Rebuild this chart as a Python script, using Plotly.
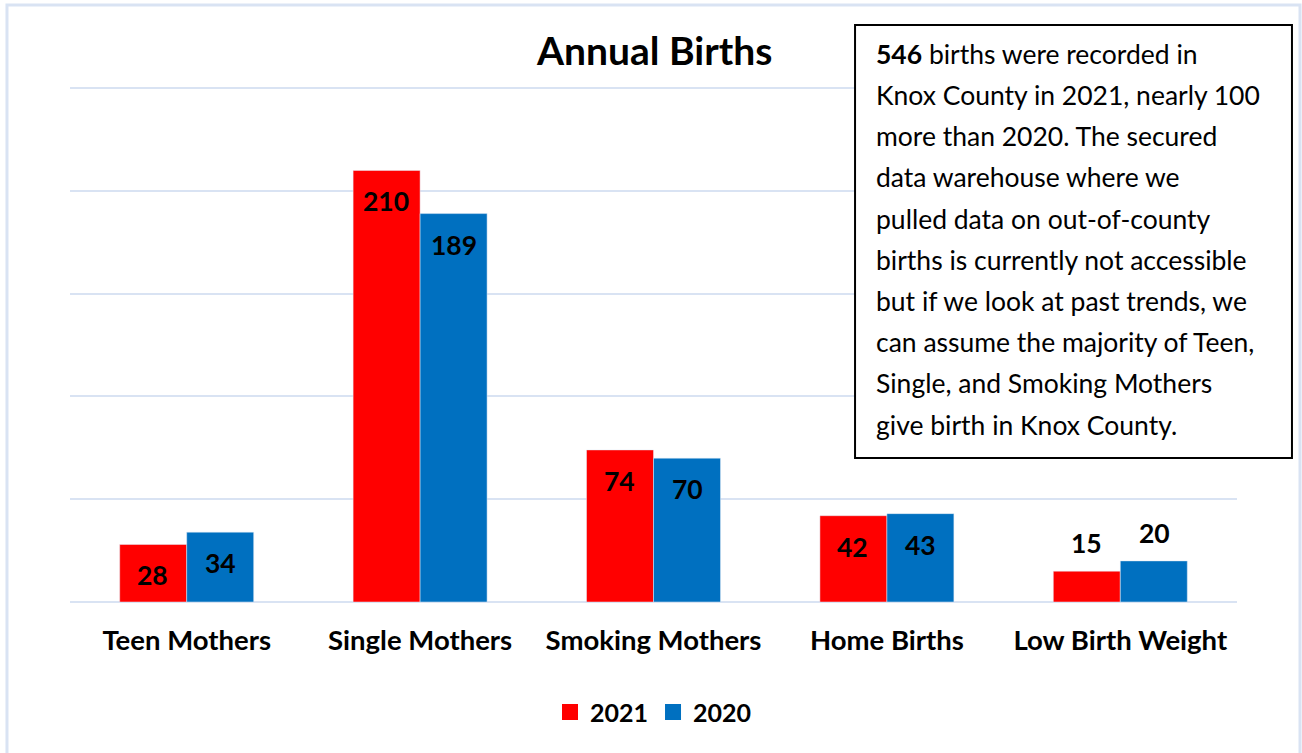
import plotly.graph_objects as go

# Annual births by category
categories = ["Teen Mothers", "Single Mothers", "Smoking Mothers", "Home Births", "Low Birth Weight"]
births_2021 = [28, 210, 74, 42, 15]
births_2020 = [34, 189, 70, 43, 20]
years = ["2021", "2020"]

note_lines = [
    "<b>546</b> births were recorded in",
    "Knox County in 2021, nearly 100",
    "more than 2020. The secured",
    "data warehouse where we",
    "pulled data on out-of-county",
    "births is currently not accessible",
    "but if we look at past trends, we",
    "can assume the majority of Teen,",
    "Single, and Smoking Mothers",
    "give birth in Knox County.",
]

FONT = "Lato"
RED = "#FF0000"
BLUE = "#0070C0"
GRID = "#D9E3F3"

fig = go.Figure()
for vals, yr, col in [(births_2021, years[0], RED), (births_2020, years[1], BLUE)]:
    fig.add_trace(go.Bar(x=categories, y=vals, name=yr, marker_color=col, showlegend=False))
# legend entries with bigger square swatches
for yr, col in [(years[0], RED), (years[1], BLUE)]:
    fig.add_trace(go.Scatter(x=[None], y=[None], mode="markers", name=f"<b>{yr}</b>",
                             marker=dict(symbol="square", size=16, color=col)))

# data labels: inside near top, above the bar when the bar is short
annotations = []
for vals, shift in [(births_2021, -34), (births_2020, 34)]:
    for cat, v in zip(categories, vals):
        inside = v >= 25
        annotations.append(dict(
            x=cat, y=v, xref="x", yref="y", text=f"<b>{v}</b>", showarrow=False,
            xshift=shift, yshift=-31 if inside else 28, yanchor="middle",
            font=dict(family=FONT, size=26.5, color="black")))

# note box text, one annotation per line
for i, line in enumerate(note_lines):
    annotations.append(dict(
        x=0.6890, y=1.0646 - i * 0.0800, xref="paper", yref="paper",
        text=line, showarrow=False, xanchor="left", yanchor="middle",
        font=dict(family=FONT, size=26.5, color="black")))

annotations.append(dict(
    x=0.5, y=1.072, xref="paper", yref="paper", text="<b>Annual Births</b>",
    showarrow=False, xanchor="center", yanchor="middle",
    font=dict(family=FONT, size=39, color="black")))

fig.update_layout(
    width=1302, height=753,
    margin=dict(l=70, r=65, t=87, b=151),
    paper_bgcolor="white", plot_bgcolor="white",
    barmode="group", bargap=0.426, bargroupgap=0,
    showlegend=True,
    legend=dict(orientation="h", x=0.5, xanchor="center", y=-0.214, yanchor="middle",
                font=dict(family=FONT, size=25, color="black"), itemwidth=30,
                itemsizing="trace", traceorder="normal"),
    annotations=annotations,
    shapes=[
        dict(type="rect", xref="paper", yref="paper", x0=-0.054, x1=1.054, y0=-0.31, y1=1.159,
             line=dict(color=GRID, width=3), layer="below"),
        dict(type="rect", xref="paper", yref="paper", x0=0.6727, x1=1.0471, y0=0.2796, y1=1.1204,
             line=dict(color="black", width=2), fillcolor="white", layer="above"),
    ],
)
fig.update_xaxes(showline=False, ticks="outside", ticklen=14, tickcolor="rgba(0,0,0,0)",
                 tickfont=dict(family=FONT, size=27.5, color="black"),
                 tickprefix="<b>", ticksuffix="</b>")
fig.update_yaxes(range=[0, 250.6], dtick=50, showticklabels=False, showgrid=True,
                 gridcolor=GRID, gridwidth=2, zeroline=True, zerolinecolor=GRID, zerolinewidth=2)

fig.write_html("out.html", config={"displayModeBar": False},
               post_script="document.body.style.margin='0';")
